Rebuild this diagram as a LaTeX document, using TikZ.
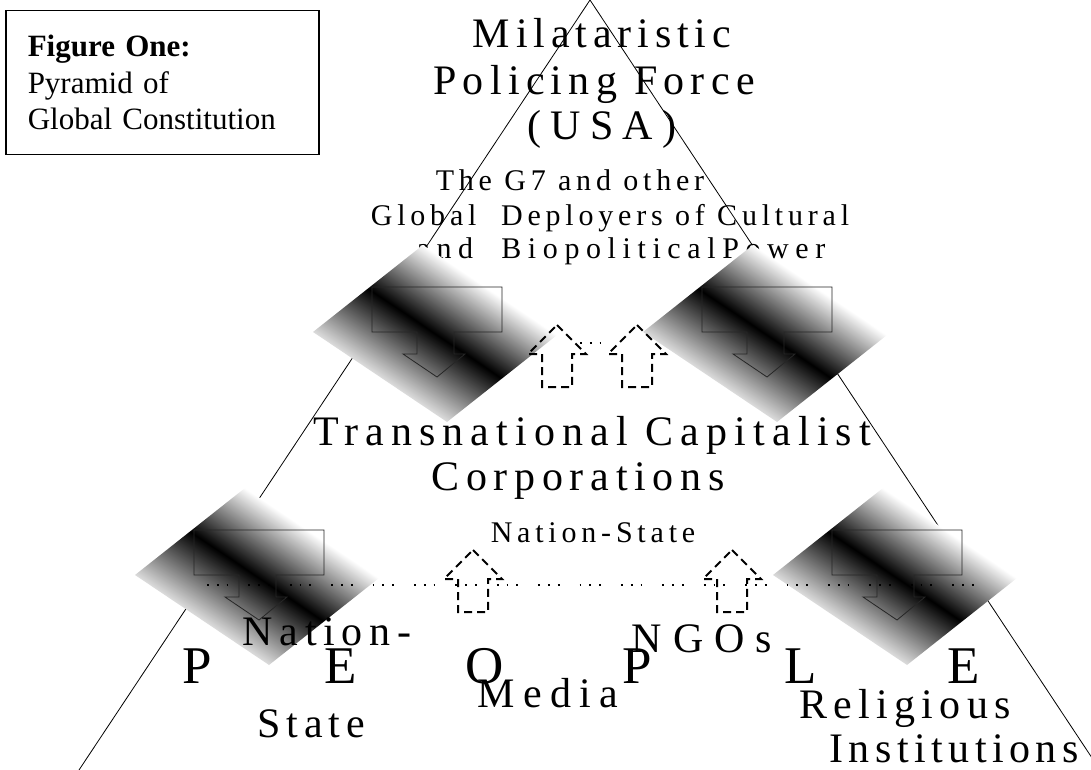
\documentclass[tikz,border=0pt]{standalone}
\usepackage{fontspec}
\usepackage{tikz}
\setmainfont{Liberation Serif}
\pgfdeclareverticalshading{bandfade}{100bp}{color(0bp)=(white); color(21bp)=(white); color(50bp)=(black); color(75bp)=(white); color(100bp)=(white)}

\begin{document}
\begin{tikzpicture}[x=1pt,y=-1pt,
  every node/.style={inner sep=0pt},
  bigtxt/.style={font=\fontsize{42}{46}\selectfont\addfontfeature{LetterSpace=#1}},
  bigtxt/.default=16,
  midtxt/.style={font=\fontsize{30}{34}\selectfont\addfontfeature{LetterSpace=#1}},
  midtxt/.default=16,
  edgeline/.style={line width=0.8pt},
  fade/.style={shading=bandfade},
  downarrow/.style={draw=black!85,line width=0.8pt},
  uparrow/.style={line width=2pt,dash pattern=on 8pt off 5pt},
  dots/.style={line width=1.8pt,dash pattern=on 1.8pt off 8pt on 1.8pt off 8pt on 1.8pt off 20pt}]
  \useasboundingbox (0,0) rectangle (1091,770);

  % pyramid
  \coordinate (apex) at (590,0);
  \coordinate (baseL) at (79,770);
  \coordinate (baseR) at (1100,770);
  \draw[edgeline] (baseL) -- (apex) -- (baseR);

  % top of the pyramid
  \node[bigtxt=14,anchor=base] (mil) at (602,48) {Milataristic};
  \node[bigtxt=15,anchor=base] (police) at (594,95) {Policing Force};
  \node[bigtxt=22,anchor=base] (usa) at (602,140) {(USA)};
  \node[midtxt,anchor=base] (gseven) at (570,190) {The G7 and other};
  \node[midtxt,anchor=base] (deploy) at (610,225) {Global\ \ Deployers of Cultural};
  \node[midtxt=22,anchor=base] (biopol) at (621,258) {and\ \ BiopoliticalPower};

  % shaded bands with the down arrows
  \foreach \ox/\oy in {372/287,702/287,194/530,832/530}{
    \pgfmathsetmacro{\lx}{\ox-59}
    \pgfmathsetmacro{\ly}{-\oy-45}
    \shade[fade,transform canvas={cm={134,-90,110,87,(\lx pt,\ly pt)}}] (0pt,0pt) rectangle (1pt,1pt);
    \begin{scope}[shift={(\ox,\oy)}]
      \draw[downarrow] (0,0) -- (130,0) -- (130,45) -- (82,45) -- (82,67) -- (93,67)
        -- (65,90) -- (31,67) -- (45,67) -- (45,45) -- (0,45) -- cycle;
    \end{scope}
  }

  % middle
  \node[bigtxt=17,anchor=base] (tcc) at (592,445) {Transnational Capitalist};
  \node[bigtxt,anchor=base] (corp) at (578,490) {Corporations};
  \node[midtxt,anchor=base] (nstate) at (593,542) {Nation-State};

  % dotted lines
  \coordinate (dotA) at (207,585);
  \coordinate (dotB) at (975,585);
  \draw[dots] (dotA) -- (dotB);
  \coordinate (dotC) at (580,343);
  \coordinate (dotD) at (612,343);
  \draw[dots] (dotC) -- (dotD);

  % broken up arrows
  \foreach \cx/\ty in {557/325,637/325,473/550,732/550}
    \draw[uparrow] (\cx,\ty) -- ++(29,29) -- ++(-14,0) -- ++(0,33) -- ++(-30,0)
      -- ++(0,-33) -- ++(-14,0) -- cycle;

  % base of the pyramid
  \foreach \ch/\px [count=\i] in {P/197,E/341,O/485,P/637,L/801,E/964}
    \node[font=\fontsize{53}{53}\selectfont,anchor=base] (people\i) at (\px,683) {\ch};
  \node[bigtxt,anchor=base] (natn) at (327,645) {Nation-};
  \node[bigtxt=14,anchor=base] (stt) at (311,737) {State};
  \node[bigtxt=20,anchor=base] (media) at (548,707) {Media};
  \node[bigtxt=26,anchor=base] (ngo) at (702,652) {NGOs};
  \node[bigtxt=15,anchor=base] (relig) at (905,718) {Religious};
  \node[bigtxt=13,anchor=base] (inst) at (954,762) {Institutions};

  % caption box
  \node[draw,line width=1.5pt,anchor=north west,minimum width=313pt,minimum height=144pt,
    text width=269pt,align=left,font=\fontsize{31}{36.5}\selectfont] (figbox) at (5,10)
    {\textbf{Figure One:}\\Pyramid of\\Global Constitution};
\end{tikzpicture}
\end{document}
